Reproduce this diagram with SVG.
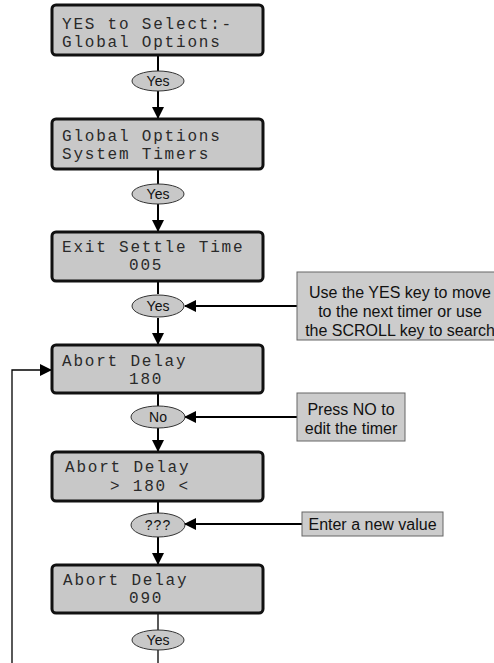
<svg xmlns="http://www.w3.org/2000/svg" width="494" height="663" viewBox="0 0 494 663">
<style>
.lcd{fill:#c8c8c8;stroke:#111;stroke-width:3}
.lt{font-family:"Liberation Mono","DejaVu Sans Mono",monospace;font-size:16px;letter-spacing:1.8px;fill:#2a2a2a}
.ov{fill:#c8c8c8;stroke:#333;stroke-width:1}
.ot{font-family:"Liberation Sans",Arial,sans-serif;font-size:14px;fill:#111;text-anchor:middle}
.co{fill:#cccccc;stroke:#666;stroke-width:1}
.ct{font-family:"Liberation Sans",Arial,sans-serif;font-size:16px;fill:#111;text-anchor:middle}
.ln{stroke:#000;stroke-width:2;fill:none}
.thin{stroke:#000;stroke-width:1.3;fill:none}
</style>
<defs>
<marker id="ah" markerWidth="12" markerHeight="12" refX="11" refY="6" orient="auto" markerUnits="userSpaceOnUse">
<path d="M0,0 L12,6 L0,12 Z" fill="#000"/>
</marker>
</defs>
<g id="connectors">
<line class="ln" x1="158" y1="55" x2="158" y2="71"/>
<line class="ln" x1="158" y1="91" x2="158" y2="118" marker-end="url(#ah)"/>
<line class="ln" x1="158" y1="169" x2="158" y2="184"/>
<line class="ln" x1="158" y1="204" x2="158" y2="231" marker-end="url(#ah)"/>
<line class="ln" x1="158" y1="281" x2="158" y2="294"/>
<line class="ln" x1="158" y1="318" x2="158" y2="344" marker-end="url(#ah)"/>
<line class="ln" x1="158" y1="393" x2="158" y2="406"/>
<line class="ln" x1="158" y1="428" x2="158" y2="451" marker-end="url(#ah)"/>
<line class="ln" x1="158" y1="501" x2="158" y2="513"/>
<line class="ln" x1="158" y1="537" x2="158" y2="564" marker-end="url(#ah)"/>
<line class="thin" x1="158" y1="613" x2="158" y2="630"/>
<line class="thin" x1="158" y1="650" x2="158" y2="663"/>
<line class="ln" x1="297" y1="306" x2="185" y2="306" marker-end="url(#ah)"/>
<line class="ln" x1="297" y1="417" x2="185" y2="417" marker-end="url(#ah)"/>
<line class="ln" x1="302" y1="524" x2="185" y2="524" marker-end="url(#ah)"/>
<polyline class="thin" points="12,663 12,370 51,370" marker-end="url(#ah)"/>
</g>
<g id="box1">
<rect class="lcd" x="52" y="5" width="211" height="50" rx="4"/>
<text class="lt" x="62" y="29">YES to Select:-</text>
<text class="lt" x="62" y="47">Global Options</text>
</g>
<g id="yes1">
<ellipse class="ov" cx="158" cy="81" rx="26" ry="10"/>
<text class="ot" x="158" y="86">Yes</text>
</g>
<g id="box2">
<rect class="lcd" x="52" y="119" width="211" height="50" rx="4"/>
<text class="lt" x="62" y="141">Global Options</text>
<text class="lt" x="62" y="159">System Timers</text>
</g>
<g id="yes2">
<ellipse class="ov" cx="158" cy="194" rx="26" ry="10"/>
<text class="ot" x="158" y="199">Yes</text>
</g>
<g id="box3">
<rect class="lcd" x="52" y="232" width="211" height="49" rx="4"/>
<text class="lt" x="62" y="252">Exit Settle Time</text>
<text class="lt" x="129" y="270">005</text>
</g>
<g id="yes3">
<ellipse class="ov" cx="158" cy="306" rx="26" ry="11"/>
<text class="ot" x="158" y="311">Yes</text>
</g>
<g id="note1">
<rect class="co" x="297" y="272" width="200" height="68"/>
<text class="ct" x="400" y="298">Use the YES key to move</text>
<text class="ct" x="400" y="317">to the next timer or use</text>
<text class="ct" x="400" y="336">the SCROLL key to search</text>
</g>
<g id="box4">
<rect class="lcd" x="52" y="345" width="211" height="48" rx="4"/>
<text class="lt" x="62" y="366">Abort Delay</text>
<text class="lt" x="129" y="384">180</text>
</g>
<g id="no">
<ellipse class="ov" cx="158" cy="417" rx="27" ry="11"/>
<text class="ot" x="158" y="422">No</text>
</g>
<g id="note2">
<rect class="co" x="297" y="393" width="108" height="48"/>
<text class="ct" x="351" y="415">Press NO to</text>
<text class="ct" x="351" y="434">edit the timer</text>
</g>
<g id="box5">
<rect class="lcd" x="52" y="452" width="211" height="49" rx="4"/>
<text class="lt" x="65" y="472">Abort Delay</text>
<text class="lt" x="110" y="491">&gt; 180 &lt;</text>
</g>
<g id="qqq">
<ellipse class="ov" cx="158" cy="525" rx="27" ry="12"/>
<text class="ot" x="158" y="530" style="letter-spacing:1px">???</text>
</g>
<g id="note3">
<rect class="co" x="302" y="512" width="141" height="24"/>
<text class="ct" x="372.5" y="530">Enter a new value</text>
</g>
<g id="box6">
<rect class="lcd" x="52" y="565" width="211" height="48" rx="4"/>
<text class="lt" x="63" y="585">Abort Delay</text>
<text class="lt" x="129" y="603">090</text>
</g>
<g id="yes4">
<ellipse class="ov" cx="158" cy="640" rx="26" ry="10"/>
<text class="ot" x="158" y="645">Yes</text>
</g>
</svg>
